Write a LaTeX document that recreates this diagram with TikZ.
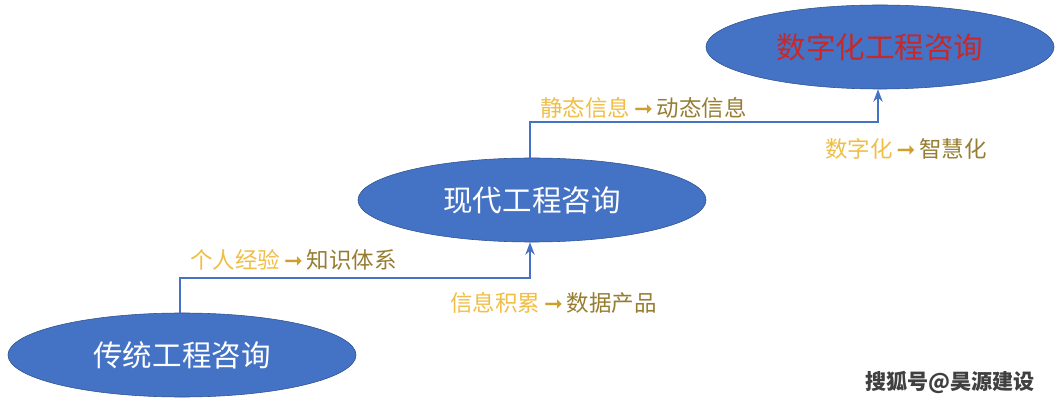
\documentclass[tikz,border=0pt]{standalone}
\usepackage{fontspec}
\setmainfont{Noto Sans CJK SC}
\newfontfamily\arrowfont{DejaVu Sans}
\usetikzlibrary{arrows.meta,shapes.geometric}
\definecolor{stepBlue}{RGB}{68,114,196}
\definecolor{stepEdge}{RGB}{47,82,143}
\definecolor{labYellow}{RGB}{240,190,70}
\definecolor{labGold}{RGB}{205,160,45}
\definecolor{labOlive}{RGB}{150,125,50}
\tikzset{
    >=Stealth,
    stage/.style={ellipse,draw=stepEdge,fill=stepBlue,minimum width=8.7cm,minimum height=2.1cm,font=\fontsize{21}{24}\selectfont,text=white},
    link/.style={->,draw=stepBlue,line width=1.3pt},
    lab/.style={font=\fontsize{16}{19}\selectfont,inner sep=0pt}
}
\newcommand{\shiftto}[2]{{\color{labYellow}#1}{\color{labGold}\arrowfont\bfseries\,➞\,}{\color{labOlive}#2}}
\begin{document}
\begin{tikzpicture}[x=0.025cm,y=-0.025cm]
  \useasboundingbox (0,0) rectangle (1062,405);
  \node[stage] (trad) at (182,355) {传统工程咨询};
  \node[stage] (modern) at (532,200) {现代工程咨询};
  \node[stage,text={rgb,255:red,200;green,40;blue,40}] (digi) at (880,47) {数字化工程咨询};

  \draw[link] (trad.north -| 180,0) |- (530,278) -- (modern.south -| 530,0);
  \draw[link] (modern.north -| 530,0) |- (878,122) -- (digi.south -| 878,0);

  \node[lab,anchor=west] (l1) at (190,260) {\shiftto{个人经验}{知识体系}};
  \node[lab,anchor=west] (l2) at (450,303) {\shiftto{信息积累}{数据产品}};
  \node[lab,anchor=west] (l3) at (540,108) {\shiftto{静态信息}{动态信息}};
  \node[lab,anchor=west] (l4) at (825,149) {\shiftto{数字化}{智慧化}};

  \node[font=\fontsize{15}{18}\selectfont\bfseries,text=black!75,anchor=east] (mark) at (1040,382) {搜狐号@昊源建设};
\end{tikzpicture}
\end{document}
